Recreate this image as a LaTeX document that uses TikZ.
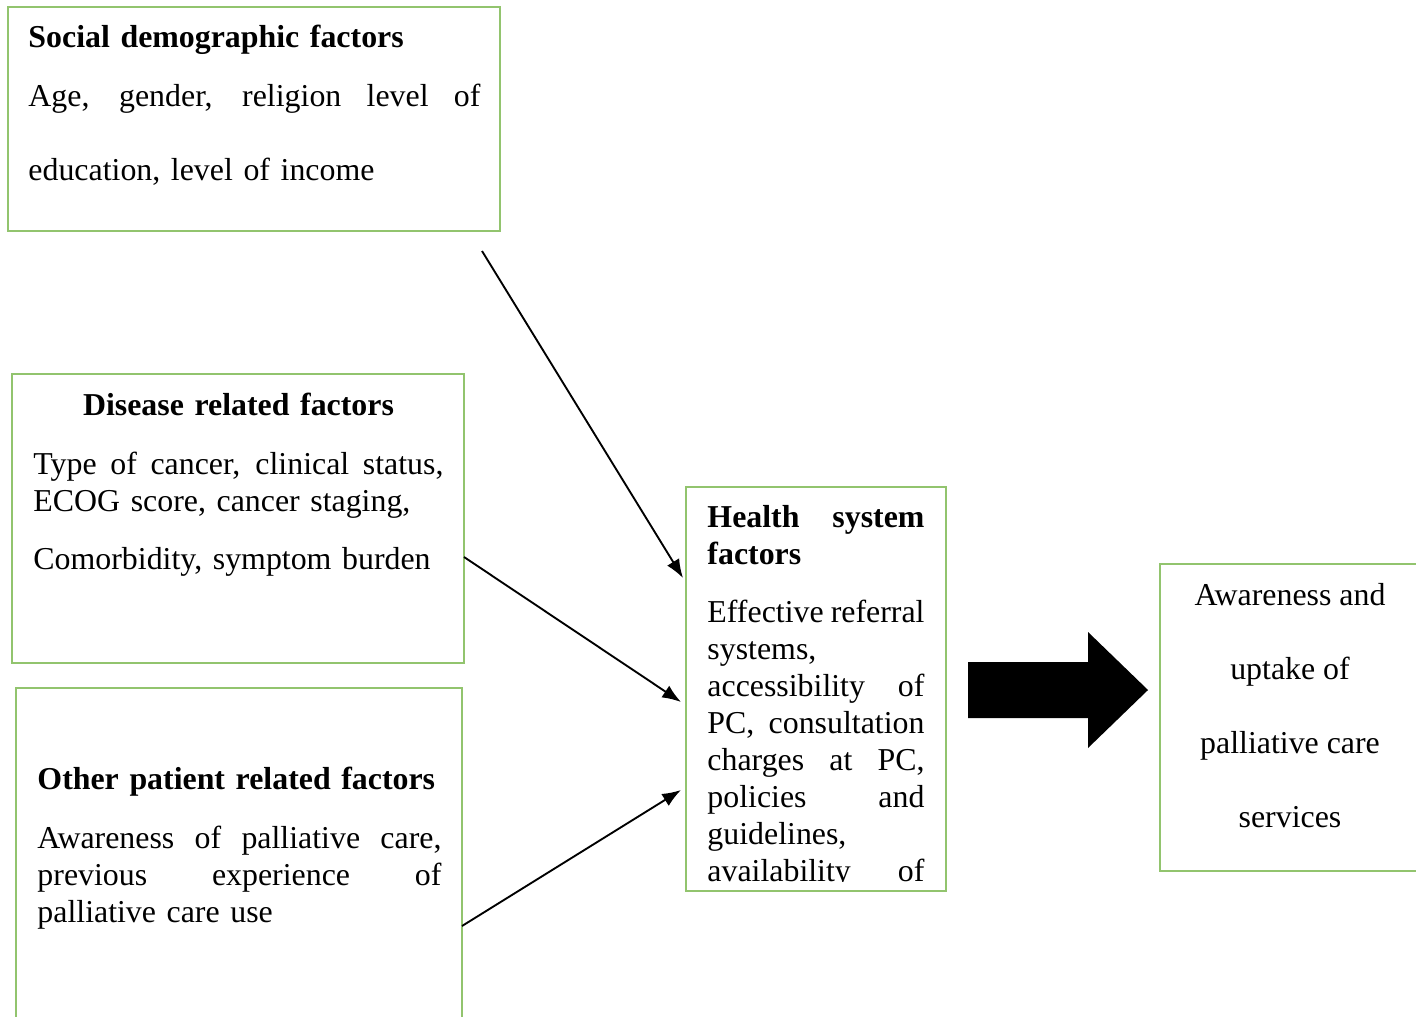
\documentclass[tikz,border=0pt]{standalone}
\usepackage{fontspec}
\setmainfont{Liberation Serif}
\usetikzlibrary{arrows.meta,fit}

\definecolor{boxgreen}{RGB}{146,196,110}

\tikzset{
  factorbox/.style={draw=boxgreen, line width=0.8pt, inner sep=0pt},
  factortext/.style={anchor=north west, inner sep=0pt, align=left,
    font=\fontsize{13.6}{15.8}\selectfont},
  link/.style={-{Latex[length=8pt,width=6pt]}, line width=0.8pt},
}
% one justified / centred line inside a text node
\newcommand\jline[1]{\makebox[\hsize][s]{\spaceskip=0pt\xspaceskip=0pt #1}}
\newcommand\cenline[1]{\makebox[\hsize][c]{#1}}

\begin{document}
\begin{tikzpicture}[x=0.015cm, y=-0.015cm]
\clip (0,0) rectangle (1416,1016);

% boxes
\node[factorbox, fit={(8,7) (500,231)}] (social) {};
\node[factorbox, fit={(12,374) (464,663)}] (disease) {};
\node[factorbox, fit={(16,688) (462,1040)}] (other) {};
\node[factorbox, fit={(686,487) (946,891)}] (health) {};
\node[factorbox, fit={(1160,564) (1432,871)}] (outcome) {};

% texts
\node[factortext, text width=6.78cm] (socialtext) at (28,25) {%
  \textbf{Social demographic factors}\\[9pt]
  \jline{Age, gender, religion level of}\\[15.8pt]
  education, level of income};

\node[factortext, text width=6.15cm] (diseasetext) at (33,393) {%
  \cenline{\textbf{Disease related factors}}\\[9pt]
  \jline{Type of cancer, clinical status,}\\
  ECOG score, cancer staging,\\[9pt]
  Comorbidity, symptom burden};

\node[factortext, text width=6.06cm] (othertext) at (37,767) {%
  \textbf{Other patient related factors}\\[9pt]
  \jline{Awareness of palliative care,}\\
  \jline{previous experience of}\\
  palliative care use};

\begin{scope}
\clip (health.north west) rectangle ([yshift=4.5pt]health.south east);
\node[factortext, text width=3.255cm] (healthtext) at (707,505) {%
  \jline{\textbf{Health system}}\\
  \textbf{factors}\\[9pt]
  \jline{Effective referral}\\
  systems,\\
  \jline{accessibility of}\\
  \jline{PC, consultation}\\
  \jline{charges at PC,}\\
  \jline{policies and}\\
  guidelines,\\
  \jline{availability of}};
\end{scope}

\node[factortext, anchor=north, align=center] (outcometext) at (1290,583) {%
  Awareness and\\[15.8pt]
  uptake of\\[15.8pt]
  palliative care\\[15.8pt]
  services};

% connectors
\coordinate (socialout) at (482,251);
\coordinate (diseaseout) at (464,557);
\coordinate (otherout) at (462,926);
\coordinate (healthin1) at (683,578);
\coordinate (healthin2) at (681,702);
\coordinate (healthin3) at (681,790);

\draw[link] (socialout) -- (healthin1);
\draw[link] (diseaseout) -- (healthin2);
\draw[link] (otherout) -- (healthin3);

% block arrow to outcome
\fill (968,662) -- (1088,662) -- (1088,632) -- (1148,690) -- (1088,748)
  -- (1088,718) -- (968,718) -- cycle;

\end{tikzpicture}
\end{document}
